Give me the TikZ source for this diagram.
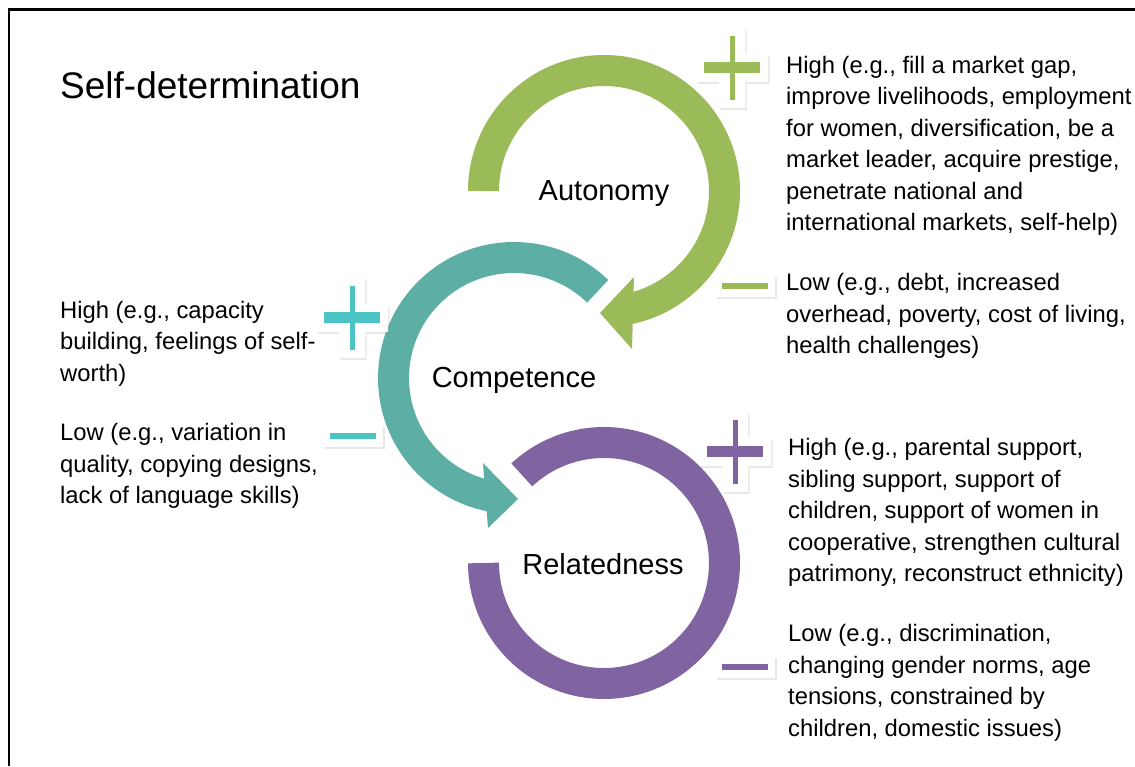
\documentclass[tikz,border=0pt]{standalone}
\usepackage{fontspec}
\setmainfont{Liberation Sans}
\usetikzlibrary{positioning,shadows}

\definecolor{autgreen}{HTML}{9BBB59}
\definecolor{comteal}{HTML}{5DAEA5}
\definecolor{signteal}{HTML}{4DC4C4}
\definecolor{relpurple}{HTML}{8064A2}

% plus / minus badges: white backing with a soft shadow, coloured bars on top
\newcommand{\plusmark}[2]{%
  \begin{scope}[shift={#1}]
    \fill[white, drop shadow={shadow xshift=1.5pt, shadow yshift=-2pt, opacity=.18}]
      (-36,-14) -- (-13,-14) -- (-13,-40) -- (13,-40) -- (13,-14) -- (36,-14)
      -- (36,14) -- (13,14) -- (13,40) -- (-13,40) -- (-13,14) -- (-36,14) -- cycle;
    \fill[#2] (-28,-5.5) rectangle (28,5.5);
    \fill[#2] (-2.5,-32) rectangle (2.5,32);
  \end{scope}}
\newcommand{\minusmark}[2]{%
  \begin{scope}[shift={#1}]
    \fill[white, drop shadow={shadow xshift=1.5pt, shadow yshift=-2pt, opacity=.18}]
      (-30,-11) rectangle (30,11);
    \fill[#2] (-23,-3) rectangle (23,3);
  \end{scope}}

\begin{document}
\begin{tikzpicture}[x=1pt, y=1pt,
  ring/.style={line width=31pt},
  lbl/.style={font=\fontsize{29}{34}\selectfont, anchor=base, inner sep=0pt},
  note/.style={font=\fontsize{23.8}{31.5}\selectfont, align=left,
               anchor=base west, inner sep=0pt}]
\useasboundingbox (0,0) rectangle (1135,766);
\draw[line width=2.4pt] (8.7,0) -- (8.7,756.5) -- (1135,756.5);

\coordinate (autc) at (604,575);
\coordinate (comc) at (514,388);
\coordinate (relc) at (604,203);

% the three rings
\draw[ring, autgreen, shift={(autc)}] (180:120.5) arc[start angle=180, end angle=-78, radius=120.5];
\fill[autgreen, shift={(autc)}] (30,-86) -- (-4,-122) -- (28,-158) -- cycle;
\draw[ring, comteal, shift={(comc)}] (46:120.5) arc[start angle=46, end angle=259, radius=120.5];
\fill[comteal, shift={(comc)}] (-31,-85) -- (4,-121) -- (-26,-150) -- cycle;
\draw[ring, relpurple, shift={(relc)}] (133:120.5) arc[start angle=133, end angle=-180, radius=120.5];

\node[lbl] (aut) at (604,565.5) {Autonomy};
\node[lbl] (com) at (514,378.5) {Competence};
\node[lbl] (rel) at (603,191) {Relatedness};

\node[anchor=base west, inner sep=0pt, font=\fontsize{37}{44}\selectfont] (title) at (60,667.7) {Self-determination};

% notes sit on the baseline of their last line
\node[note] (hiaut) at (786,535) {High (e.g., fill a market gap,\\improve livelihoods, employment\\for women, diversification, be a\\market leader, acquire prestige,\\penetrate national and\\international markets, self-help)};
\node[note] (loaut) at (786,412) {Low (e.g., debt, increased\\overhead, poverty, cost of living,\\health challenges)};
\node[note] (hicom) at (60,384.7) {High (e.g., capacity\\building, feelings of self-\\worth)};
\node[note] (locom) at (60,262) {Low (e.g., variation in\\quality, copying designs,\\lack of language skills)};
\node[note] (hirel) at (788,184) {High (e.g., parental support,\\sibling support, support of\\children, support of women in\\cooperative, strengthen cultural\\patrimony, reconstruct ethnicity)};
\node[note] (lorel) at (788,29.8) {Low (e.g., discrimination,\\changing gender norms, age\\tensions, constrained by\\children, domestic issues)};

\plusmark{(732,698)}{autgreen}
\minusmark{(745,480)}{autgreen}
\plusmark{(352,448)}{signteal}
\minusmark{(353,330)}{signteal}
\plusmark{(735,314)}{relpurple}
\minusmark{(745,99)}{relpurple}
\end{tikzpicture}
\end{document}
